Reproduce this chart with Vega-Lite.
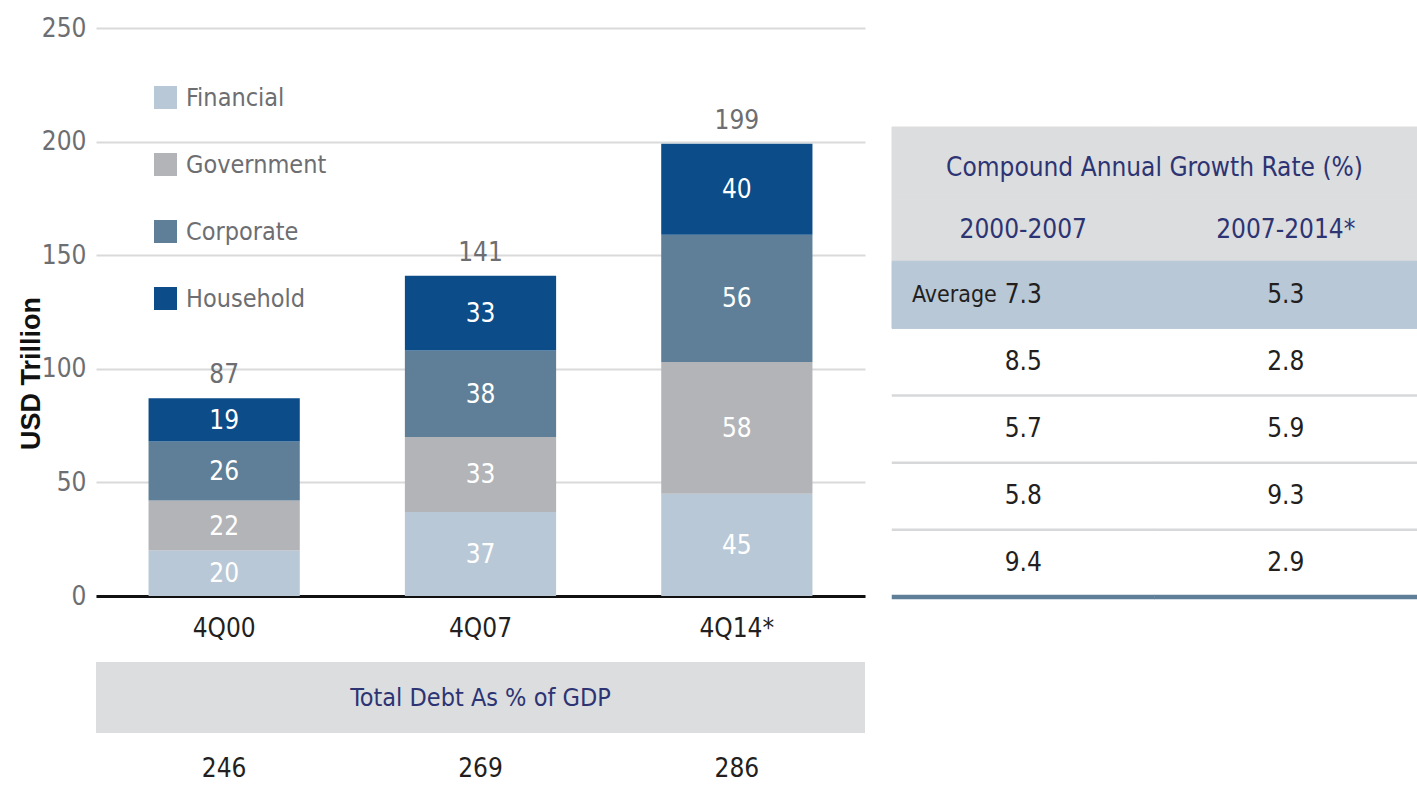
{
  "$schema": "https://vega.github.io/schema/vega-lite/v6.json",
  "width": 769,
  "height": 568,
  "autosize": {"type": "none"},
  "padding": {"left": 96, "top": 28, "right": 552, "bottom": 200},
  "background": "white",
  "config": {
    "font": "DejaVu Sans Condensed, Roboto Condensed, Roboto, sans-serif",
    "view": {"stroke": null},
    "text": {"font": "DejaVu Sans Condensed, Roboto Condensed, Roboto, sans-serif"}
  },
  "datasets": {
    "debt": [
      {"period": "4Q00", "sector": "Financial", "value": 20},
      {"period": "4Q00", "sector": "Government", "value": 22},
      {"period": "4Q00", "sector": "Corporate", "value": 26},
      {"period": "4Q00", "sector": "Household", "value": 19},
      {"period": "4Q07", "sector": "Financial", "value": 37},
      {"period": "4Q07", "sector": "Government", "value": 33},
      {"period": "4Q07", "sector": "Corporate", "value": 38},
      {"period": "4Q07", "sector": "Household", "value": 33},
      {"period": "4Q14*", "sector": "Financial", "value": 45},
      {"period": "4Q14*", "sector": "Government", "value": 58},
      {"period": "4Q14*", "sector": "Corporate", "value": 56},
      {"period": "4Q14*", "sector": "Household", "value": 40}
    ],
    "gdp": [
      {"period": "4Q00", "gdp": 246},
      {"period": "4Q07", "gdp": 269},
      {"period": "4Q14*", "gdp": 286}
    ],
    "cagr": [
      {"sector": "Average", "period": "2000-2007", "cagr": 7.3},
      {"sector": "Average", "period": "2007-2014*", "cagr": 5.3},
      {"sector": "Household", "period": "2000-2007", "cagr": 8.5},
      {"sector": "Household", "period": "2007-2014*", "cagr": 2.8},
      {"sector": "Corporate", "period": "2000-2007", "cagr": 5.7},
      {"sector": "Corporate", "period": "2007-2014*", "cagr": 5.9},
      {"sector": "Government", "period": "2000-2007", "cagr": 5.8},
      {"sector": "Government", "period": "2007-2014*", "cagr": 9.3},
      {"sector": "Financial", "period": "2000-2007", "cagr": 9.4},
      {"sector": "Financial", "period": "2007-2014*", "cagr": 2.9}
    ]
  },
  "layer": [
    {
      "data": {"name": "debt"},
      "transform": [
        {"calculate": "indexof(['Financial','Government','Corporate','Household'], datum.sector)", "as": "k"},
        {"stack": "value", "groupby": ["period"], "sort": [{"field": "k", "order": "ascending"}], "as": ["v0", "v1"]},
        {"calculate": "(datum.v0 + datum.v1) / 2", "as": "mid"}
      ],
      "layer": [
        {
          "mark": {"type": "bar"},
          "encoding": {
            "x": {
              "field": "period", "type": "nominal",
              "scale": {"type": "band", "domain": ["4Q00", "4Q07", "4Q14*"], "paddingInner": 0.41, "paddingOuter": 0.205},
              "axis": {"title": null, "domain": true, "domainColor": "#111111", "domainWidth": 3, "ticks": false, "labelPadding": 19, "labelFontSize": 26, "labelColor": "#231f20", "labelAngle": 0, "grid": false}
            },
            "y": {
              "field": "v1", "type": "quantitative",
              "scale": {"domain": [0, 250], "nice": false, "zero": true},
              "axis": {
                "title": "USD Trillion", "values": [0, 50, 100, 150, 200, 250],
                "grid": true, "gridColor": "#d9dadc", "gridWidth": 2,
                "domain": false, "ticks": false, "labelPadding": 10,
                "labelFontSize": 26, "labelColor": "#6d6e71",
                "titleFont": "Liberation Sans", "titleFontWeight": "bold", "titleFontSize": 27, "titleColor": "#111111",
                "titleX": -57, "titleY": 345, "titleAngle": 270, "titleBaseline": "alphabetic", "titleAlign": "center"
              }
            },
            "y2": {"field": "v0"},
            "color": {
              "field": "sector", "type": "nominal",
              "scale": {"domain": ["Financial", "Government", "Corporate", "Household"], "range": ["#b9c8d6", "#b3b4b8", "#5e7f97", "#0b4c89"]},
              "legend": {
                "orient": "none", "legendX": 57, "legendY": 57, "title": null, "padding": 0,
                "direction": "vertical",
                "labelFontSize": 25, "labelColor": "#6d6e71", "labelOffset": 8,
                "symbolType": "square", "symbolSize": 529, "symbolStrokeWidth": 0, "symbolOpacity": 1,
                "rowPadding": 41
              }
            }
          }
        },
        {
          "mark": {"type": "text", "color": "white", "fontSize": 26, "baseline": "middle", "dy": 1},
          "encoding": {
            "x": {"field": "period", "type": "nominal"},
            "y": {"field": "mid", "type": "quantitative"},
            "text": {"field": "value", "type": "quantitative"}
          }
        },
        {
          "transform": [{"aggregate": [{"op": "sum", "field": "value", "as": "total"}], "groupby": ["period"]}],
          "mark": {"type": "text", "color": "#6d6e71", "fontSize": 26, "baseline": "alphabetic", "dy": -15},
          "encoding": {
            "x": {"field": "period", "type": "nominal"},
            "y": {"field": "total", "type": "quantitative"},
            "text": {"field": "total", "type": "quantitative"}
          }
        }
      ]
    },
    {
      "layer": [
        {
          "data": {"values": [{"label": "Total Debt As % of GDP"}]},
          "layer": [
            {
              "mark": {"type": "rect", "color": "#dcdddf"},
              "encoding": {
                "y": {"datum": "header", "type": "nominal", "scale": {"type": "band", "domain": ["header", "values"], "range": [634, 776], "paddingInner": 0, "paddingOuter": 0}, "axis": null}
              }
            },
            {
              "mark": {"type": "text", "color": "#2d3473", "fontSize": 25, "baseline": "middle"},
              "encoding": {
                "y": {"datum": "header", "type": "nominal", "axis": null},
                "text": {"field": "label"}
              }
            }
          ]
        },
        {
          "data": {"name": "gdp"},
          "mark": {"type": "text", "color": "#231f20", "fontSize": 26, "baseline": "middle"},
          "encoding": {
            "x": {"field": "period", "type": "nominal", "scale": {"type": "band", "domain": ["4Q00", "4Q07", "4Q14*"], "paddingInner": 0, "paddingOuter": 0}, "axis": null},
            "y": {"datum": "values", "type": "nominal", "axis": null},
            "text": {"field": "gdp", "type": "quantitative"}
          }
        }
      ]
    },
    {
      "data": {"name": "cagr"},
      "layer": [
        {
          "transform": [{"filter": "datum.sector === 'Average'"}],
          "mark": {"type": "rect", "color": "#dcdddf", "stroke": "#dcdddf", "strokeWidth": 1},
          "encoding": {
            "x": {"field": "period", "type": "nominal", "scale": {"type": "band", "domain": ["2000-2007", "2007-2014*"], "range": [796, 1321], "paddingInner": 0, "paddingOuter": 0}, "axis": null},
            "y": {"datum": "title", "type": "nominal", "scale": {"type": "band", "domain": ["title", "years", "Average", "Household", "Corporate", "Government", "Financial"], "range": [99, 569], "paddingInner": 0, "paddingOuter": 0}, "axis": null}
          }
        },
        {
          "transform": [{"filter": "datum.sector === 'Average'"}],
          "mark": {"type": "rect", "color": "#dcdddf", "stroke": "#dcdddf", "strokeWidth": 1},
          "encoding": {
            "x": {"field": "period", "type": "nominal", "axis": null},
            "y": {"datum": "years", "type": "nominal", "axis": null}
          }
        },
        {
          "transform": [{"filter": "datum.sector === 'Average'"}],
          "mark": {"type": "rect", "color": "#b9c8d6", "stroke": "#b9c8d6", "strokeWidth": 1},
          "encoding": {
            "x": {"field": "period", "type": "nominal", "axis": null},
            "y": {"field": "sector", "type": "nominal", "axis": null}
          }
        },
        {
          "transform": [{"filter": "datum.sector !== 'Average' && datum.sector !== 'Financial'"}],
          "mark": {"type": "tick", "orient": "horizontal", "color": "#d7d8da", "thickness": 2.5, "opacity": 1},
          "encoding": {
            "x": {"field": "period", "type": "nominal", "axis": null},
            "y": {"field": "sector", "type": "nominal", "bandPosition": 1, "axis": null},
            "size": {"value": 263}
          }
        },
        {
          "transform": [{"filter": "datum.sector === 'Financial'"}],
          "mark": {"type": "tick", "orient": "horizontal", "color": "#5e7f97", "thickness": 4.5, "opacity": 1},
          "encoding": {
            "x": {"field": "period", "type": "nominal", "axis": null},
            "y": {"field": "sector", "type": "nominal", "bandPosition": 1, "axis": null},
            "size": {"value": 263}
          }
        },
        {
          "transform": [{"filter": "datum.sector === 'Average' && datum.period === '2000-2007'"}],
          "mark": {"type": "text", "color": "#2d3473", "fontSize": 26, "baseline": "middle", "dy": 7, "text": "Compound Annual Growth Rate (%)"},
          "encoding": {
            "x": {"field": "period", "type": "nominal", "bandPosition": 1, "axis": null},
            "y": {"datum": "title", "type": "nominal", "axis": null}
          }
        },
        {
          "transform": [{"filter": "datum.sector === 'Average'"}],
          "mark": {"type": "text", "color": "#2d3473", "fontSize": 26, "baseline": "middle", "dy": 2},
          "encoding": {
            "x": {"field": "period", "type": "nominal", "axis": null},
            "y": {"datum": "years", "type": "nominal", "axis": null},
            "text": {"field": "period"}
          }
        },
        {
          "transform": [{"filter": "datum.sector === 'Average' && datum.period === '2000-2007'"}],
          "mark": {"type": "text", "color": "#231f20", "fontSize": 23, "baseline": "middle", "align": "left", "dx": 20},
          "encoding": {
            "x": {"field": "period", "type": "nominal", "bandPosition": 0, "axis": null},
            "y": {"field": "sector", "type": "nominal", "axis": null},
            "text": {"field": "sector"}
          }
        },
        {
          "mark": {"type": "text", "color": "#231f20", "fontSize": 26, "baseline": "middle"},
          "encoding": {
            "x": {"field": "period", "type": "nominal", "axis": null},
            "y": {"field": "sector", "type": "nominal", "axis": null},
            "text": {"field": "cagr", "type": "quantitative", "format": ".1f"}
          }
        }
      ]
    }
  ],
  "resolve": {"scale": {"x": "independent", "y": "independent"}}
}
